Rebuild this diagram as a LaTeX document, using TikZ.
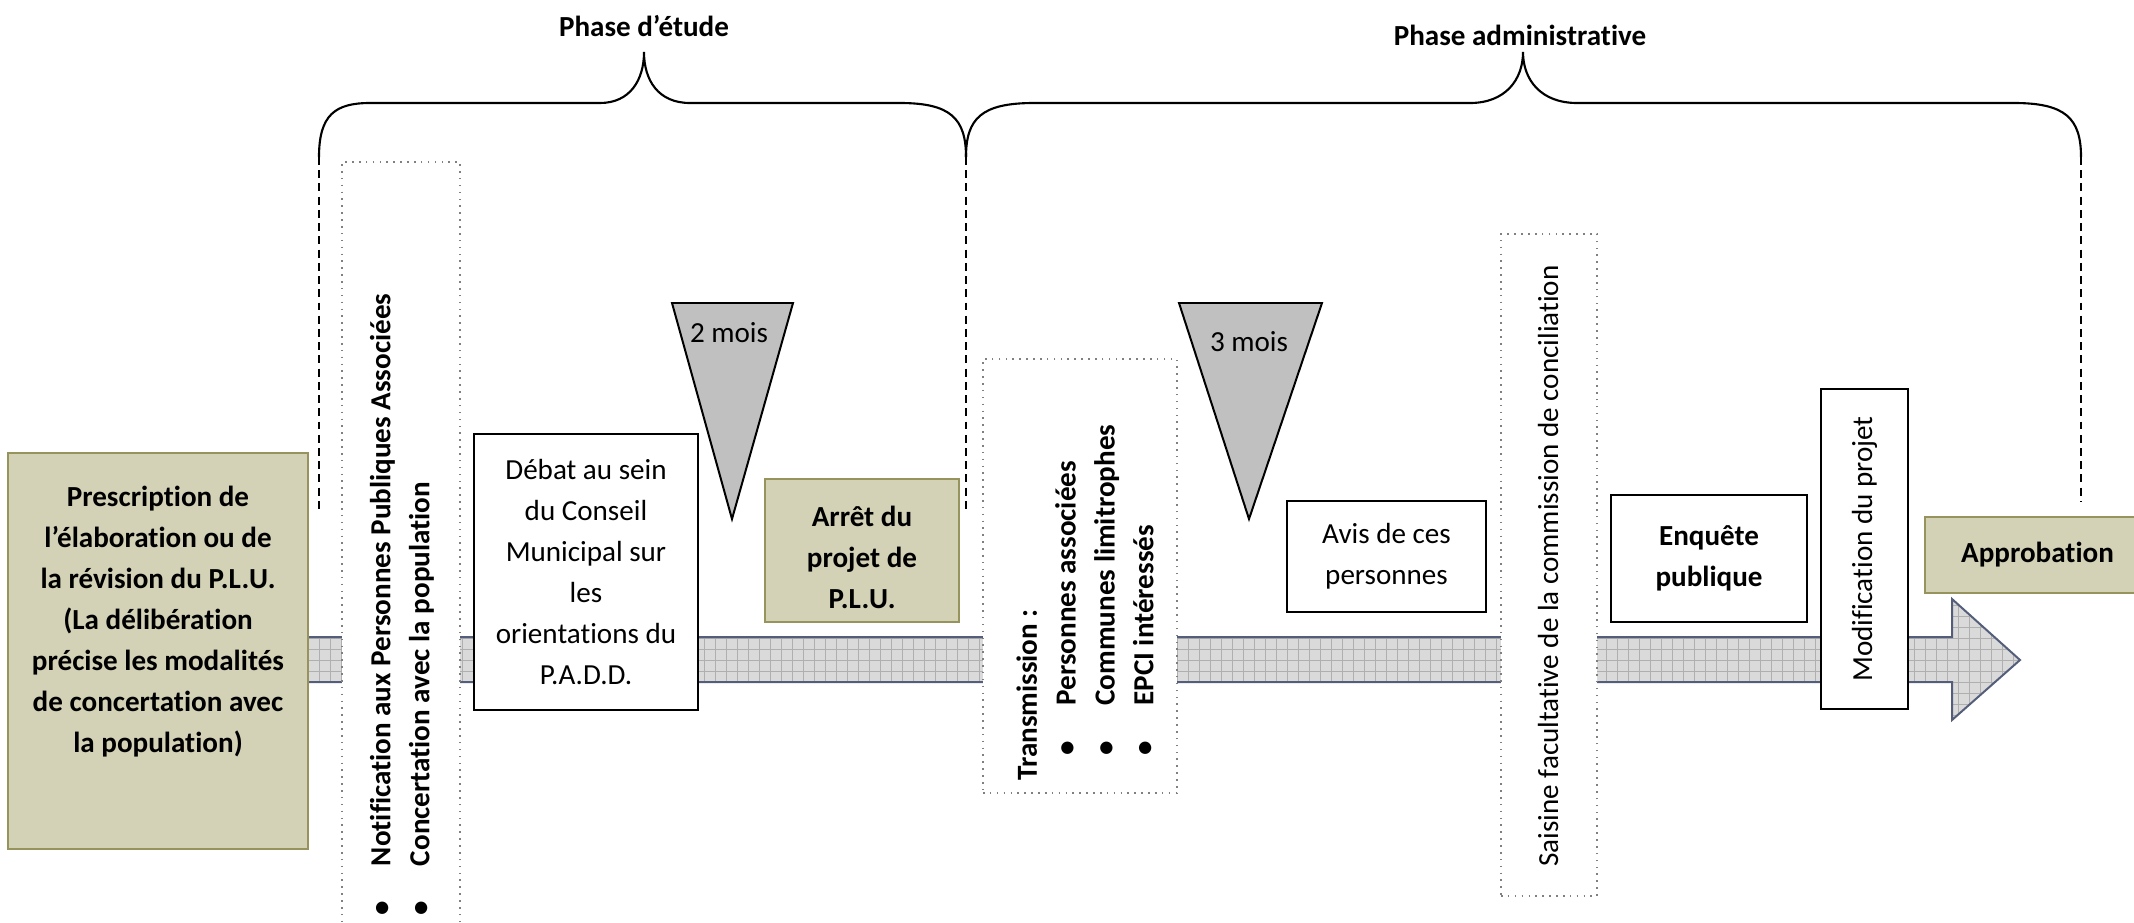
\documentclass[tikz,border=0pt]{standalone}
\usepackage{fontspec}
\setmainfont[Ligatures=NoCommon]{Carlito}
\usetikzlibrary{fit}

\definecolor{olivefill}{RGB}{211,209,182}
\definecolor{olivedraw}{RGB}{150,148,92}
\definecolor{shaftdraw}{RGB}{84,94,122}
\definecolor{shaftfill}{RGB}{218,218,218}
\definecolor{shaftgrid}{RGB}{175,175,175}
\definecolor{delaygray}{RGB}{192,192,192}

\begin{document}
\begin{tikzpicture}[x=0.378pt,y=-0.378pt,
txt/.style={font=\fontsize{11}{15.5}\selectfont, align=center, inner sep=0pt},
boldtxt/.style={txt, font=\fontsize{11}{15.5}\selectfont\bfseries},
rottxt/.style={rotate=90, align=left, inner sep=0pt, font=\fontsize{11}{14.7}\selectfont},
stepbox/.style={draw, line width=0.8pt, fill=white, inner sep=0pt},
olivebox/.style={draw=olivedraw, fill=olivefill, line width=0.8pt, inner sep=0pt},
dotbox/.style={draw=gray, dotted, line width=0.6pt, fill=white, inner sep=0pt},
delay/.style={draw, fill=delaygray, line width=0.75pt, line join=miter},
brace/.style={line width=0.8pt},
limit/.style={line width=0.9pt, dash pattern=on 3pt off 2pt},
]
\useasboundingbox (0,0) rectangle (2134,922);

% phases
\coordinate (s1) at (319,157);
\coordinate (s2) at (966,157);
\coordinate (s3) at (2081,157);
\draw[limit] (s1) -- (319,514);
\draw[limit] (s2) -- (966,514);
\draw[limit] (s3) -- (2081,501);
\draw[brace] (s1) .. controls (319,115) and (335,103) .. (370,103) -- (600,103)
	.. controls (630,103) and (644,80) .. (644,52)
	.. controls (644,80) and (658,103) .. (690,103) -- (900,103)
	.. controls (950,103) and (966,118) .. (s2);
\draw[brace] (s2) .. controls (966,118) and (982,103) .. (1034,103) -- (1470,103)
	.. controls (1505,103) and (1523,80) .. (1523,52)
	.. controls (1523,80) and (1541,103) .. (1577,103) -- (2014,103)
	.. controls (2065,103) and (2081,118) .. (s3);
\node[boldtxt] (etude) at (644,26) {Phase d’étude};
\node[boldtxt] (admin) at (1520,35) {Phase administrative};

% timeline arrow
\begin{scope}
\clip (300,637) -- (1952,637) -- (1952,599) -- (2020,660) -- (1952,720) -- (1952,682) -- (300,682) -- cycle;
\fill[shaftfill] (300,590) rectangle (2030,730);
\draw[shaftgrid, line width=0.4pt, step=4.16pt] (300,590) grid (2030,730);
\end{scope}
\draw[shaftdraw, line width=0.75pt, line join=miter] (300,637) -- (1952,637) -- (1952,599) -- (2020,660) -- (1952,720) -- (1952,682) -- (300,682) -- cycle;

% steps
\node[olivebox, fit={(8,453) (308,849)}] (presc) {};
\node[boldtxt, anchor=north] (presctext) at (158,486) {Prescription de\\l’élaboration ou de\\la révision du P.L.U.\\(La délibération\\précise les modalités\\de concertation avec\\la population)};

\node[dotbox, fit={(342,162) (460,935)}] (notif) {};
\node[rottxt, font=\fontsize{11}{14.7}\selectfont\bfseries, anchor=west] (notiftext) at (402,916)
	{\makebox[1.7em][l]{\textbullet}Notification aux Personnes Publiques Associées\\
	 \makebox[1.7em][l]{\textbullet}Concertation avec la population};

\node[stepbox, fit={(474,434) (698,710)}] (debat) {};
\node[txt] (debattext) at (debat) {Débat au sein\\du Conseil\\Municipal sur\\les\\orientations du\\P.A.D.D.};

\draw[delay] (672,303) -- (793,303) -- (732,519) -- cycle;
\node[txt] (deuxmois) at (729,333) {2 mois};

\node[olivebox, fit={(765,479) (959,622)}] (arret) {};
\node[boldtxt] (arrettext) at (862,557) {Arrêt du\\projet de\\P.L.U.};

\node[dotbox, fit={(983,359) (1177,793)}] (transm) {};
\node[rottxt, font=\fontsize{11}{14.7}\selectfont\bfseries, anchor=west] (transmtext) at (1085,781)
	{Transmission :\\
	 \hspace*{0.86em}\makebox[1.72em][l]{\textbullet}Personnes associées\\
	 \hspace*{0.86em}\makebox[1.72em][l]{\textbullet}Communes limitrophes\\
	 \hspace*{0.86em}\makebox[1.72em][l]{\textbullet}EPCI intéressés};

\draw[delay] (1179,303) -- (1322,303) -- (1249,519) -- cycle;
\node[txt] (troismois) at (1249,342) {3 mois};

\node[stepbox, fit={(1287,501) (1486,612)}] (avis) {};
\node[txt] (avistext) at (avis) {Avis de ces\\personnes};

\node[dotbox, fit={(1501,234) (1597,896)}] (saisine) {};
\node[rottxt, anchor=west] (saisinetext) at (1548,867) {Saisine facultative de la commission de conciliation};

\node[stepbox, fit={(1611,495) (1807,622)}] (enquete) {};
\node[boldtxt] (enquetetext) at (enquete) {Enquête\\publique};

\node[stepbox, fit={(1821,389) (1908,709)}] (modif) {};
\node[rottxt] (modiftext) at (modif) {Modification du projet};

\node[olivebox, fit={(1925,517) (2150,593)}] (approb) {};
\node[boldtxt] (approbtext) at (approb) {Approbation};
\end{tikzpicture}
\end{document}
